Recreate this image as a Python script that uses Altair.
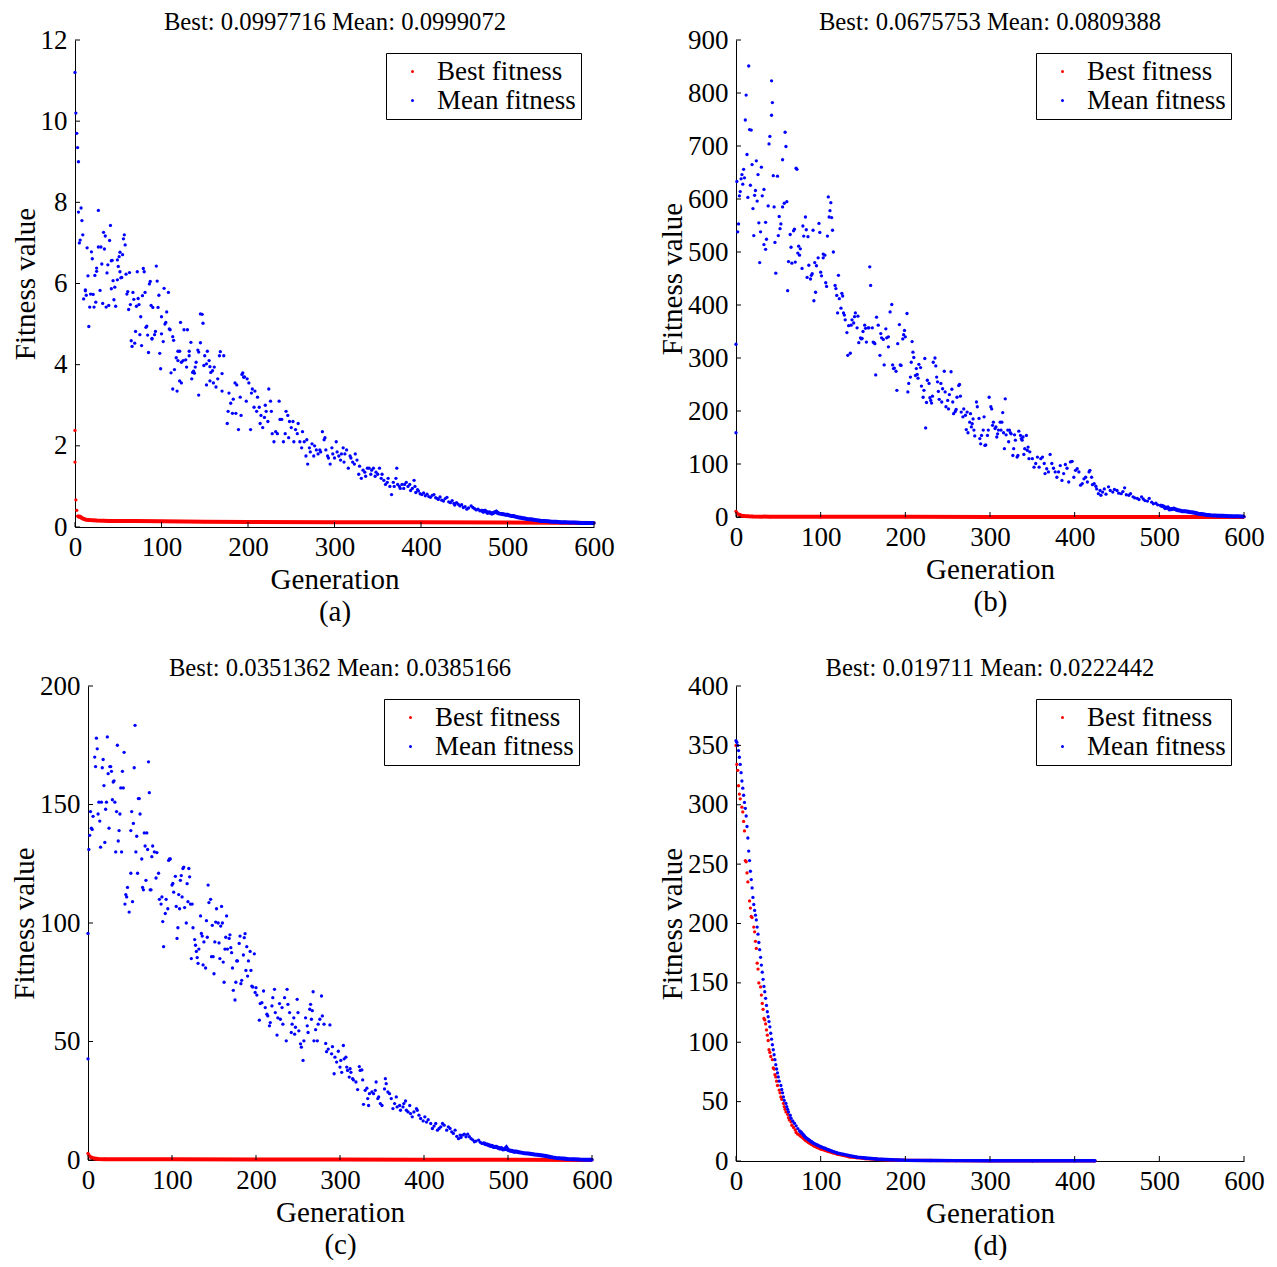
import altair as alt
import pandas as pd

FONT = "Liberation Serif"
SERIES = ["Best fitness", "Mean fitness"]
COLORS = ["#ff0000", "#0000ff"]
X_TICKS = [0, 100, 200, 300, 400, 500, 600]

TITLE_A = "Best: 0.0997716 Mean: 0.0999072"
TITLE_B = "Best: 0.0675753 Mean: 0.0809388"
TITLE_C = "Best: 0.0351362 Mean: 0.0385166"
TITLE_D = "Best: 0.019711 Mean: 0.0222442"

Y_TICKS_A = [0, 2, 4, 6, 8, 10, 12]
Y_TICKS_B = [0, 100, 200, 300, 400, 500, 600, 700, 800, 900]
Y_TICKS_C = [0, 50, 100, 150, 200]
Y_TICKS_D = [0, 50, 100, 150, 200, 250, 300, 350, 400]

# (generation, value) readings
BEST_A = [(0, 2.38), (0, 1.6), (1, 0.67), (2, 0.41), (3, 0.27), (4, 0.26), (5, 0.25), (6, 0.25), (8, 0.22),
          (10, 0.2), (13, 0.18), (17, 0.17), (25, 0.16), (40, 0.15), (70, 0.145), (100, 0.14), (150, 0.13),
          (200, 0.125), (300, 0.12), (400, 0.115), (500, 0.11), (600, 0.1)]
MEAN_A = [(0, 11.2), (1, 10.2), (2, 9.7), (3, 9.35), (4, 9.0),
          (4, 7.76), (7, 7.86), (8, 7.55), (5, 7.0), (6, 7.07), (9, 7.2), (14, 6.88), (15, 6.19), (19, 6.78), (20, 6.61),
          (10, 5.62), (12, 5.82), (12, 5.84), (13, 5.71), (17, 5.42), (16, 4.94), (18, 5.74), (21, 5.73), (22, 5.42),
          (23, 6.2), (24, 5.54), (25, 6.38), (25, 6.3), (27, 6.9), (27, 7.8), (29, 5.83), (30, 6.9), (31, 6.48),
          (32, 5.51), (33, 7.26), (34, 6.85), (35, 7.17), (36, 5.42), (37, 6.26), (38, 6.46), (39, 5.46), (40, 7.06),
          (41, 7.43), (42, 5.87), (42, 6.56), (43, 6.57), (44, 6.07), (45, 5.6), (46, 5.91), (47, 5.44), (49, 6.58),
          (49, 6.09), (50, 6.42), (51, 6.66), (52, 6.29), (52, 6.77), (53, 6.14), (54, 6.15), (55, 6.71), (56, 7.1),
          (57, 7.2), (58, 6.95), (59, 6.23), (60, 5.74), (61, 5.8), (62, 5.36), (63, 6.27), (64, 5.48), (65, 4.59),
          (66, 4.45), (67, 5.78), (68, 5.61), (69, 4.53), (70, 4.82), (71, 5.44), (72, 6.29), (73, 5.63), (74, 5.48),
          (75, 4.74), (76, 5.18), (77, 4.47), (78, 5.7), (79, 6.37), (80, 6.29), (81, 5.78), (82, 4.92), (83, 4.95),
          (84, 4.73), (85, 4.3), (86, 5.99), (87, 6.05), (88, 5.46), (89, 4.63), (89, 4.65), (90, 5.41), (92, 4.74),
          (93, 4.82), (94, 6.43), (95, 6.06), (96, 5.41), (97, 5.71), (98, 4.28), (99, 3.9), (100, 5.18), (100, 4.76),
          (102, 4.57), (103, 5.88), (104, 5.0), (105, 5.04), (106, 5.3), (108, 5.78), (109, 4.88), (110, 4.86),
          (111, 3.8), (113, 4.69), (114, 4.6), (115, 3.88), (117, 4.17), (119, 4.1), (119, 4.33), (121, 4.33),
          (122, 5.04), (123, 4.06), (125, 4.1), (126, 4.86), (128, 4.12), (129, 3.94), (130, 4.86), (132, 4.33),
          (132, 4.22), (134, 4.55), (136, 3.81), (137, 3.84), (138, 3.79), (139, 3.94), (140, 4.06), (142, 4.36),
          (143, 4.31), (145, 4.54), (145, 5.25), (147, 5.24), (148, 5.02), (149, 3.98), (150, 4.22), (152, 4.02),
          (153, 4.33), (155, 4.1), (156, 3.95), (157, 3.81), (159, 3.85), (161, 3.94), (167, 4.22), (168, 4.32),
          (170, 3.78), (172, 4.22), (193, 3.76), (195, 3.69),
          (113, 3.4), (118, 3.35), (121, 3.6), (123, 3.55), (135, 3.65), (143, 3.25), (152, 3.5), (156, 3.6),
          (160, 3.55), (163, 3.45), (165, 3.65), (170, 3.35), (176, 2.55), (177, 2.85), (180, 3.05), (182, 2.8),
          (183, 3.15), (185, 3.55), (186, 2.8), (189, 2.4), (191, 3.2), (194, 3.8), (196, 3.7), (198, 3.1),
          (201, 3.55), (203, 2.4), (204, 3.3), (207, 2.95), (208, 3.35), (210, 2.85), (213, 2.95), (215, 2.75),
          (217, 2.45), (219, 2.7), (221, 2.85), (224, 3.4), (226, 3.1), (228, 2.3), (230, 2.1), (232, 2.35),
          (236, 3.1), (239, 2.65), (241, 2.1), (243, 2.3), (246, 2.75), (248, 2.6), (250, 2.45), (253, 2.1),
          (255, 2.4), (257, 2.3), (260, 2.1), (262, 1.95), (265, 2.1), (267, 1.75), (269, 1.55), (272, 1.85),
          (274, 2.05), (276, 1.75), (279, 1.9), (281, 1.8), (283, 1.9), (286, 2.35), (288, 2.15), (290, 1.9),
          (293, 1.7), (295, 1.55), (298, 1.8), (300, 1.7), (302, 2.1), (305, 1.75), (307, 1.65), (310, 1.95),
          (312, 1.8), (314, 1.9), (316, 1.45), (319, 1.7), (321, 1.6), (324, 1.8), (326, 1.65), (328, 1.3),
          (331, 1.2), (333, 1.4), (335, 1.35), (338, 1.45), (340, 1.45), (342, 1.3), (345, 1.45), (347, 1.25),
          (350, 1.3), (352, 1.45), (354, 1.2), (357, 1.15), (359, 1.05), (361, 1.1), (364, 1.0), (366, 0.8),
          (369, 1.0), (371, 1.2), (372, 1.45), (373, 1.05), (376, 0.95), (378, 1.05), (380, 0.95), (383, 1.1),
          (385, 1.0), (387, 1.05), (390, 0.95), (392, 1.15), (394, 0.85),
          (178, 3.3), (187, 3.5), (192, 2.75), (199, 3.65), (205, 3.4), (211, 3.2), (214, 2.55), (220, 3.0),
          (223, 2.6), (227, 2.85), (234, 2.3), (237, 2.65), (244, 2.85), (247, 2.2), (252, 2.6), (258, 2.55),
          (263, 2.35), (268, 2.15), (271, 1.95), (277, 2.0), (284, 1.85), (289, 2.2), (292, 1.75), (297, 1.95),
          (303, 1.85), (308, 1.8), (311, 1.6), (318, 1.75), (323, 1.55), (329, 1.5), (336, 1.25), (343, 1.4),
          (348, 1.35), (355, 1.3), (362, 1.2), (368, 1.1), (375, 1.0), (381, 1.05), (388, 0.9), (393, 1.0), (396, 0.92),
          (397, 0.89), (399, 0.82), (401, 0.8), (403, 0.84), (405, 0.77), (407, 0.81), (409, 0.75), (411, 0.73),
          (413, 0.78), (415, 0.8), (417, 0.72), (419, 0.7), (420, 0.68), (422, 0.74), (424, 0.66), (426, 0.64),
          (428, 0.7), (430, 0.73), (432, 0.62), (434, 0.6), (436, 0.65), (438, 0.58), (439, 0.54), (441, 0.6),
          (443, 0.56), (445, 0.52), (447, 0.55), (449, 0.48), (451, 0.5), (453, 0.44), (455, 0.47), (458, 0.52),
          (460, 0.48), (462, 0.45), (464, 0.42), (466, 0.44), (468, 0.4), (470, 0.41), (472, 0.38), (474, 0.4),
          (477, 0.35), (479, 0.36), (482, 0.33), (484, 0.35), (487, 0.38), (489, 0.34), (491, 0.33), (494, 0.32),
          (496, 0.31), (498, 0.3), (500, 0.3), (503, 0.28), (505, 0.27), (507, 0.27), (510, 0.25), (512, 0.24),
          (515, 0.23), (517, 0.22), (520, 0.21), (522, 0.2), (524, 0.19), (527, 0.19), (530, 0.18), (533, 0.17),
          (536, 0.16), (539, 0.15), (543, 0.15), (547, 0.14), (551, 0.13), (556, 0.13), (561, 0.12), (566, 0.12),
          (572, 0.11), (578, 0.11), (585, 0.1), (592, 0.1), (600, 0.1)]

BEST_B = [(0, 10.7), (1, 8), (2, 6), (3, 5), (5, 3.2), (7, 2.5), (10, 1.8), (15, 1.2), (20, 0.9), (40, 0.6),
          (100, 0.4), (200, 0.3), (300, 0.2), (400, 0.15), (500, 0.1), (600, 0.08)]
MEAN_B = [(0, 326), (0, 159), (1, 633), (2, 538), (3, 553), (4, 606), (5, 614), (6, 638), (7, 646), (8, 628),
          (9, 656), (10, 640), (11, 749), (12, 796), (13, 684), (14, 603), (15, 851), (16, 731), (17, 626), (18, 730),
          (19, 665), (20, 582), (21, 531), (22, 607), (23, 616), (24, 672), (25, 596), (26, 646), (27, 555), (28, 480),
          (29, 538), (30, 660), (31, 606), (33, 618), (33, 514), (35, 556), (35, 505), (36, 524), (38, 587), (39, 704),
          (40, 718), (42, 823), (43, 782), (42, 758), (44, 644), (45, 585), (46, 518), (47, 460), (49, 643), (50, 531),
          (51, 567), (52, 544), (53, 553), (55, 674), (55, 585), (57, 592), (58, 726), (59, 699), (60, 595), (61, 427),
          (62, 482), (64, 533), (65, 509), (66, 479), (68, 540), (69, 543), (70, 481), (71, 658), (72, 656), (73, 498),
          (74, 511), (75, 494), (76, 506), (78, 469), (79, 549), (80, 530), (82, 566), (83, 542), (84, 452), (85, 529),
          (86, 475), (88, 449), (89, 456), (90, 459), (91, 541), (92, 408), (93, 480), (94, 424), (95, 474), (97, 489),
          (98, 554), (99, 537), (100, 462), (101, 455), (103, 496), (103, 489), (105, 494), (106, 442), (107, 435),
          (108, 530), (109, 604), (110, 566), (111, 578), (112, 593), (113, 565), (114, 541), (115, 500), (117, 437),
          (118, 431), (119, 418), (120, 385), (121, 456), (122, 412), (124, 394), (125, 422), (126, 417), (127, 385),
          (128, 381), (129, 372), (131, 348), (132, 305), (133, 361), (135, 309), (136, 362), (137, 372), (139, 366),
          (140, 378), (141, 385), (143, 357), (144, 379), (145, 329), (147, 338), (148, 336), (149, 337), (150, 350),
          (152, 362), (153, 356), (154, 330), (156, 357), (157, 357), (158, 472), (159, 437), (161, 357), (162, 330),
          (163, 329), (164, 327), (165, 268), (166, 377), (168, 362), (170, 305), (171, 346), (172, 338), (174, 335),
          (175, 287), (177, 355), (178, 338), (180, 321), (180, 340), (182, 387), (184, 401), (185, 287), (186, 280),
          (187, 281), (189, 275), (190, 239), (191, 327), (193, 363), (194, 287), (195, 286), (197, 336), (198, 344),
          (199, 352), (200, 340), (202, 384), (203, 236), (204, 252), (206, 264), (207, 292), (208, 331), (209, 311),
          (210, 301), (212, 267), (213, 280), (214, 269), (215, 262), (216, 288), (218, 282), (219, 247), (221, 226),
          (222, 239), (223, 299), (224, 168), (225, 216), (226, 258), (228, 252), (229, 225), (230, 220), (231, 215),
          (232, 228), (233, 292), (235, 300), (236, 285), (237, 264), (238, 255), (239, 237), (240, 222), (242, 252),
          (243, 217), (244, 242), (246, 275), (247, 236), (248, 208), (250, 220), (251, 204), (252, 231), (254, 274),
          (255, 241), (256, 217), (257, 195), (259, 199), (260, 203), (261, 226), (263, 248), (264, 250), (265, 228),
          (266, 198), (268, 189), (269, 204), (271, 192), (272, 165), (273, 198), (274, 159), (276, 179), (277, 195),
          (278, 170), (279, 176), (280, 185), (281, 164), (282, 153), (284, 217), (285, 208), (287, 186), (288, 148),
          (289, 138), (290, 154), (292, 164), (293, 189), (294, 135), (295, 136), (297, 154), (298, 164), (299, 226),
          (301, 208), (302, 204), (303, 173), (304, 179), (306, 167), (307, 170), (308, 151), (309, 157), (310, 164),
          (312, 179), (313, 164), (314, 179), (315, 197), (316, 159), (317, 129), (318, 223), (319, 155), (321, 164),
          (322, 142), (323, 164), (324, 159), (325, 157), (327, 116), (328, 129), (329, 155), (330, 145), (332, 113),
          (333, 116), (334, 162), (336, 154), (337, 148), (338, 145), (339, 151), (340, 118), (341, 129), (343, 154),
          (344, 126), (345, 132), (346, 110), (347, 123), (350, 110), (352, 94), (354, 101), (356, 113), (358, 94),
          (360, 110), (362, 113), (364, 101), (365, 82), (367, 91), (369, 85), (371, 118), (373, 101), (375, 92),
          (377, 85), (379, 75), (381, 85), (383, 97), (385, 69), (387, 82), (389, 99), (391, 92), (393, 66),
          (395, 104), (397, 105), (399, 75), (401, 88), (403, 91), (405, 85), (407, 60), (409, 63), (411, 72),
          (413, 75), (415, 66), (417, 85), (418, 88), (420, 75), (421, 61), (423, 63), (425, 58), (426, 53),
          (428, 44), (430, 50), (431, 41), (433, 47), (435, 53), (437, 43), (440, 57), (442, 50), (445, 47),
          (447, 52), (450, 50), (452, 45), (455, 44), (457, 48), (459, 55), (461, 42), (464, 41), (466, 44),
          (469, 38), (471, 36), (474, 35), (476, 33), (479, 38), (481, 34), (483, 31), (486, 30), (488, 35),
          (491, 28), (493, 25), (496, 26), (498, 23), (501, 22), (503, 21), (505, 20), (507, 17), (510, 18),
          (512, 14.5), (515, 15), (517, 16), (520, 14), (522, 12.6), (525, 12), (527, 10.7), (529, 11), (531, 10.7),
          (534, 10), (536, 9.4), (540, 8.5), (543, 7.5), (546, 6.3), (550, 5.5), (555, 4.4), (560, 3.5), (565, 3),
          (570, 2.5), (575, 2.2), (579, 2), (585, 1.5), (592, 1.2), (598, 0.8), (600, 0.8)]

BEST_C = [(0, 2.8), (1, 2.2), (2, 1.6), (3, 1.2), (5, 0.9), (8, 0.6), (12, 0.45), (20, 0.35), (50, 0.3),
          (100, 0.28), (200, 0.25), (300, 0.2), (400, 0.15), (500, 0.1), (600, 0.05)]
MEAN_C = [(0, 95.6), (0, 42.7), (1, 131), (2, 137), (3, 147), (4, 140), (5, 139.5), (6, 145), (8, 170), (9, 166),
          (10, 178), (11, 173.5), (12, 146), (13, 151), (14, 143), (15, 132), (16, 151), (17, 165.5), (18, 169),
          (19, 158), (20, 134), (21, 148), (22, 151), (23, 178.5), (24, 163), (25, 140), (26, 166), (27, 166),
          (28, 164), (29, 152), (30, 159.5), (31, 160), (32, 151), (33, 130), (34, 147), (35, 175), (36, 134.6),
          (37, 139), (38, 146), (39, 157), (40, 130), (41, 164), (42, 157), (43, 172), (44, 108), (45, 112),
          (46, 111), (47, 115), (49, 104.6), (51, 139), (51, 121), (52, 147), (53, 109), (54, 142), (55, 165.5),
          (56, 183.4), (57, 130), (58, 136.6), (59, 121), (60, 152.5), (61, 152.5), (62, 146), (64, 127), (65, 115),
          (66, 114), (67, 138), (68, 132.5), (69, 118), (70, 138), (71, 131), (72, 168), (73, 155), (74, 114),
          (75, 114), (76, 128), (77, 132.5), (79, 130), (81, 119), (82, 129.7), (84, 121), (85, 110), (87, 108),
          (88, 111), (89, 100.6), (90, 90), (92, 104), (93, 110), (95, 106), (96, 126.4), (97, 127), (98, 127),
          (100, 116), (101, 116.7), (102, 113), (104, 119.7), (105, 107), (106, 93.5), (107, 98), (108, 112),
          (109, 106), (110, 118), (111, 120), (112, 111), (113, 123), (114, 123.6), (115, 106.5), (117, 100),
          (118, 116.6), (119, 109), (120, 123), (121, 119.5), (122, 108), (123, 85), (124, 108), (125, 98),
          (127, 93), (128, 90.6), (129, 88), (130, 85.4), (131, 83), (132, 89), (134, 103), (135, 95.6),
          (136, 94.5), (137, 82.3), (138, 92), (140, 81), (141, 101), (142, 94), (143, 116), (144, 108.6),
          (146, 110), (147, 85.8), (148, 99), (149, 85.8), (150, 78.6), (151, 92), (152, 100.4), (153, 106),
          (155, 100), (156, 91.6), (157, 85), (158, 98.7), (159, 107), (160, 100), (161, 83.5), (162, 75), (163, 89),
          (164, 94), (165, 103), (166, 89), (168, 93.5), (169, 95), (170, 89.6), (171, 87.5), (172, 81),
          (173, 71.6), (175, 67.5), (176, 75), (177, 84), (178, 84), (180, 91.4), (181, 94.5), (182, 74.4),
          (183, 75.8), (185, 86.5), (186, 93.8), (187, 95.5), (188, 80), (189, 90), (190, 77.6), (191, 84),
          (193, 88), (194, 80), (195, 73.4), (196, 73), (198, 87), (199, 70.7),
          (200, 72.7), (201, 69.6), (204, 59), (205, 66), (207, 66.4), (209, 71.3), (211, 64.3), (213, 61.5),
          (214, 60.8), (216, 56.6), (217, 58), (219, 65), (220, 68.5), (222, 72), (223, 62.2), (225, 52.7),
          (226, 60), (228, 66), (229, 59.4), (231, 64.3), (232, 57.3), (234, 68.5), (236, 50.3), (237, 72),
          (238, 65.7), (240, 62.2), (242, 53.8), (243, 57.3), (245, 60), (246, 53.1), (247, 56), (249, 67.8),
          (250, 62.2), (251, 54.5), (253, 49), (254, 47.6), (256, 42), (257, 50.3), (259, 60), (261, 56.6),
          (262, 53.8), (264, 63.6), (265, 65.7), (266, 59.4), (267, 63), (268, 71), (269, 50.3), (271, 55),
          (273, 50.3), (274, 57.3), (276, 59.4), (278, 69.2), (279, 60.8), (281, 57.3), (283, 49.2), (284, 45.7),
          (286, 46.8), (288, 57), (290, 44.8), (291, 47.8), (293, 36.4), (294, 43.4), (296, 41.3), (298, 45.9),
          (300, 39.2), (301, 42), (302, 37), (304, 48.3), (305, 42.7), (307, 43.4), (308, 39.2), (309, 37.8),
          (311, 35), (312, 38.5), (313, 37), (315, 34.3), (316, 33.8), (319, 32.9), (321, 29.7), (323, 39.4),
          (324, 37.8), (326, 38), (327, 33.8), (328, 23.5), (330, 29.4), (332, 30.3), (333, 25.9), (334, 23),
          (335, 28), (338, 28.7), (340, 28), (342, 29.4), (343, 32.9), (345, 25.9), (346, 26.6), (348, 23.8),
          (350, 23), (353, 30), (354, 34.3), (355, 32.2), (357, 28.7), (359, 28), (361, 25.9), (363, 21.7),
          (365, 23.8), (367, 26.6), (368, 22.4), (371, 23), (372, 21), (375, 22.4), (376, 23.8), (378, 24.9),
          (379, 21), (381, 20.3), (383, 23), (384, 19.6), (386, 18.2), (388, 20.3), (391, 21.7), (392, 21),
          (394, 18.9), (396, 17.5), (399, 16.5), (401, 18.2), (403, 16), (405, 17), (408, 15.4), (410, 13.3),
          (412, 14.3), (414, 15.4), (416, 12.6), (418, 13.3), (420, 14), (422, 15.4), (424, 14.7), (427, 12.6),
          (429, 14), (431, 13.3), (433, 11.9), (435, 11.2), (437, 12.6), (439, 10), (441, 9), (443, 10.5),
          (444, 9.5), (446, 10.5), (448, 10.9), (450, 9.8), (452, 10.9), (454, 9.8), (456, 9), (458, 8.5),
          (460, 7.7), (462, 8), (465, 8.4), (467, 7.5), (469, 7), (471, 7.2), (473, 6.7), (475, 6.6), (477, 6.3),
          (479, 6), (481, 5.9), (483, 5.5), (486, 5.6), (488, 5.2), (490, 4.9), (492, 5), (494, 4.5), (496, 4.6),
          (498, 5.3), (500, 4.3), (503, 3.9), (505, 3.8), (507, 3.5), (509, 3.6), (511, 3.5), (513, 3.3),
          (516, 3.1), (520, 2.8), (524, 2.7), (528, 2.5), (532, 2.3), (537, 2.1), (541, 1.9), (545, 1.7),
          (549, 1.4), (553, 1.1), (557, 0.9), (562, 0.7), (566, 0.6), (571, 0.45), (579, 0.3), (585, 0.2),
          (592, 0.15), (600, 0.1)]

BEST_D = [(0, 350), (1, 334), (2, 329), (3, 316), (4, 309), (5, 305), (7, 298), (8, 294), (9, 286), (10, 278),
          (11, 253), (12, 252), (13, 242.6), (14, 235), (16, 219), (17, 213), (18, 206), (19, 205), (21, 197),
          (22, 193), (23, 185), (24, 179), (25, 166.6), (26, 161.6), (27, 150), (29, 146.6), (30, 139.7),
          (31, 132.7), (32, 127.7), (33, 120), (34, 118.8), (35, 115.4), (36, 110.4), (37, 106), (38, 101.5),
          (39, 93.7), (40, 91.4), (41, 88), (43, 85.3), (44, 78.3), (45, 77.5), (46, 72.8), (47, 70.8), (48, 67.2),
          (49, 63.6), (51, 59.7), (52, 57.4), (53, 54), (54, 51.9), (56, 48.5), (57, 45.7), (58, 43.5), (59, 41.3),
          (61, 39.3), (62, 36.5), (63, 34.6), (65, 32.9), (66, 30.1), (68, 28.2), (70, 26.2), (71, 24), (73, 22.6),
          (75, 22), (77, 20.6), (80, 19), (82, 17.6), (86, 15.6), (89, 14.2), (92, 12.8), (96, 11.4), (100, 10.3),
          (105, 9.2), (109, 8.1), (114, 7), (120, 5.9), (127, 4.7), (134, 3.6), (143, 2.8), (153, 2), (166, 1.4),
          (183, 0.8), (200, 0.5), (250, 0.3), (300, 0.2), (350, 0.18), (400, 0.15), (424, 0.15)]
MEAN_D = [(0, 354), (1, 352.6), (2, 350), (3, 345.6), (4, 340), (5, 334), (6, 327), (7, 320), (8, 314), (9, 308),
          (10, 302), (11, 297), (12, 290.5), (13, 281.7), (14, 272), (15, 261), (16, 253), (17, 244), (18, 237),
          (19, 230), (20, 222), (21, 216), (22, 211), (23, 207), (24, 203), (25, 197), (26, 191), (27, 184),
          (28, 178), (29, 171.5), (30, 165), (31, 159), (32, 153), (33, 147), (34, 142.5), (35, 137), (36, 131),
          (37, 125.7), (38, 121.5), (39, 117.4), (40, 113), (41, 107.6), (42, 102.6), (43, 97.9), (44, 93.7),
          (45, 89.5), (46, 85.3), (47, 81.1), (48, 77.5), (49, 74.2), (50, 70.8), (51, 67.2), (53, 63.6), (54, 60.2),
          (55, 57.4), (56, 54), (57, 51), (59, 48.5), (60, 45.7), (61, 43.5), (62, 41.3), (64, 38.5), (65, 36),
          (67, 33.7), (69, 31.8), (71, 29.6), (73, 27.3), (75, 25.4), (77, 24), (80, 21.7), (82, 19.8), (86, 17.8),
          (89, 16.2), (92, 14.8), (96, 13.4), (100, 12), (105, 10.6), (109, 9.5), (114, 8.1), (120, 6.7),
          (127, 5.6), (134, 4.5), (143, 3.3), (153, 2.5), (166, 1.7), (183, 1.1), (200, 0.6), (230, 0.4),
          (260, 0.3), (300, 0.25), (350, 0.22), (400, 0.2), (424, 0.2)]


def frame(pairs, series):
    return pd.DataFrame({"gen": [p[0] for p in pairs], "val": [p[1] for p in pairs], "series": series})


def panel(best, mean, y_ticks, title, caption, width, height, best_line_from, mean_line_from, line_w,
          shift=0, title_dx=0):
    # shift: the plot's left edge is drawn this many pixels left of the cell origin
    if shift:
        xs = alt.Scale(domain=[0, 600], nice=False, zero=False, range=[-shift, width])
    else:
        xs = alt.Scale(domain=[0, 600], nice=False, zero=False)
    ys = alt.Scale(domain=[y_ticks[0], y_ticks[-1]], nice=False, zero=False)
    x_axis = alt.Axis(values=X_TICKS, title=["Generation", caption], grid=False, ticks=False,
                      labelFont=FONT, labelFontSize=27, labelColor="black", labelPadding=7,
                      labelFlush=False, labelOverlap=False,
                      titleFont=FONT, titleFontSize=29, titleFontWeight="normal", titleColor="black",
                      titlePadding=5, titleLineHeight=32, domainColor="black", domainWidth=1)
    y_axis = alt.Axis(values=y_ticks, title="Fitness value", grid=False, ticks=False,
                      labelFont=FONT, labelFontSize=27, labelColor="black", labelPadding=8,
                      labelFlush=False, labelOverlap=False, offset=shift,
                      titleFont=FONT, titleFontSize=29, titleFontWeight="normal", titleColor="black",
                      titlePadding=0, domainColor="black", domainWidth=1)
    x = alt.X("gen:Q", scale=xs, axis=x_axis)
    y = alt.Y("val:Q", scale=ys, axis=y_axis)

    pts = pd.concat([frame(best, SERIES[0]), frame(mean, SERIES[1])], ignore_index=True)
    best_df = frame([p for p in best if p[0] >= best_line_from], SERIES[0])
    mean_df = frame([p for p in mean if p[0] >= mean_line_from], SERIES[1])

    best_line = alt.Chart(best_df).mark_line(color=COLORS[0], strokeWidth=line_w).encode(x=x, y=y)
    mean_line = alt.Chart(mean_df).mark_line(color=COLORS[1], strokeWidth=line_w).encode(x=x, y=y)
    dots = alt.Chart(pts).mark_circle(size=11, opacity=1).encode(
        x=x, y=y,
        color=alt.Color("series:N", scale=alt.Scale(domain=SERIES, range=COLORS),
                        legend=alt.Legend(title=None, orient="top-right", offset=13,
                                          fillColor="white", strokeColor="black", padding=5,
                                          labelFont=FONT, labelFontSize=27, labelColor="black",
                                          symbolType="circle", symbolSize=9, symbolStrokeWidth=0,
                                          symbolOffset=8, labelOffset=11, rowPadding=1)),
        order=alt.Order("series:N", sort="ascending"),
    )
    xt = alt.Chart(pd.DataFrame({"gen": X_TICKS})).mark_rule(color="black", strokeWidth=1).encode(
        x=x, y=alt.value(height), y2=alt.value(height - 5))
    yt = alt.Chart(pd.DataFrame({"val": y_ticks})).mark_rule(color="black", strokeWidth=1).encode(
        y=y, x=alt.value(-shift), x2=alt.value(5 - shift))

    return alt.layer(best_line, dots, mean_line, xt, yt).properties(
        width=width, height=height,
        title=alt.TitleParams(text=title, font=FONT, fontSize=24.7, fontWeight="normal",
                              color="black", anchor="middle", offset=-9, dx=title_dx),
    )


pa = panel(BEST_A, MEAN_A, Y_TICKS_A, TITLE_A, "(a)", 506, 487, 3, 470, 4, shift=13, title_dx=-6)
pb = panel(BEST_B, MEAN_B, Y_TICKS_B, TITLE_B, "(b)", 508, 477, 3, 500, 4)
pc = panel(BEST_C, MEAN_C, Y_TICKS_C, TITLE_C, "(c)", 504, 474, 3, 470, 4)
pd_ = panel(BEST_D, MEAN_D, Y_TICKS_D, TITLE_D, "(d)", 508, 475, 75, 75, 3.4)

chart = alt.concat(pa, pb, pc, pd_, columns=2, align="none", spacing={"row": 30, "column": 43}).properties(
    padding={"left": 2, "top": 2, "right": 0, "bottom": 0}
).resolve_scale(color="independent", x="independent", y="independent").configure(
    background="white"
).configure_view(stroke=None, strokeWidth=0)

chart.save("out.html", embed_options={"renderer": "svg", "actions": False})
